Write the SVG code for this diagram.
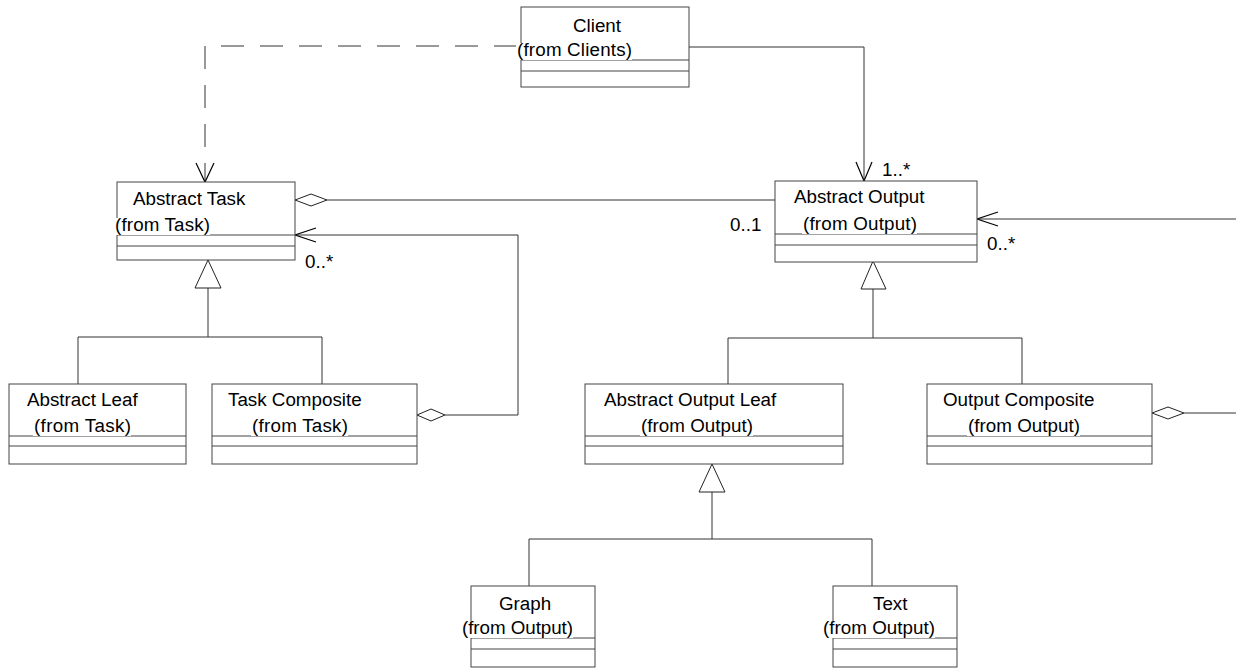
<svg xmlns="http://www.w3.org/2000/svg" width="1236" height="668" viewBox="0 0 1236 668">
<style>
  .box { fill: #fff; stroke: #444; stroke-width: 1; }
  .ln { fill: none; stroke: #444; stroke-width: 1; }
  .bg { fill: #fff; stroke: none; }
  .t { font-family: "Liberation Sans", Arial, sans-serif; font-size: 18.8px; fill: #000; }
  .con { fill: none; stroke: #333; stroke-width: 1; }
  .dash { stroke-dasharray: 23 16; }
  .head { fill: none; stroke: #000; stroke-width: 1.2; }
  .tri { fill: #fff; stroke: #222; stroke-width: 1; }
  .dia { fill: #fff; stroke: #222; stroke-width: 1; }
</style>
<rect width="1236" height="668" fill="#fff"/>

<g id="connectors">
  <!-- dependency Client -> Abstract Task -->
  <path class="con dash" d="M517,46 H205 V181"/>
  <path class="head" d="M196,163 L205,182 L214,163"/>
  <!-- Client -> Abstract Output -->
  <path class="con" d="M689,47 H864 V181"/>
  <path class="head" d="M856,162 L864,181 L872,162"/>
  <!-- aggregation Abstract Task <> Abstract Output -->
  <path class="con" d="M327,200 H775"/>
  <polygon class="dia" points="295,200 311,194 327,200 311,206"/>
  <!-- Task Composite aggregation to Abstract Task -->
  <path class="con" d="M445,415 H518 V235 H296"/>
  <polygon class="dia" points="417,415 431,409 445,415 431,421"/>
  <path class="head" d="M316,228 L295,235 L316,242"/>
  <!-- Output Composite aggregation to Abstract Output -->
  <path class="con" d="M1184,413 H1240 V219 H978"/>
  <polygon class="dia" points="1152,413 1168,407 1184,413 1168,419"/>
  <path class="head" d="M998,212 L977,219 L998,226"/>
  <!-- generalization Abstract Task -->
  <path class="con" d="M208,288 V337 M78,384 V337 H322 V384"/>
  <polygon class="tri" points="208,260 195,288 221,288"/>
  <!-- generalization Abstract Output -->
  <path class="con" d="M873,289 V338 M728,384 V338 H1022 V384"/>
  <polygon class="tri" points="873,261 861,289 886,289"/>
  <!-- generalization Abstract Output Leaf -->
  <path class="con" d="M712,492 V539 M529,586 V539 H872 V586"/>
  <polygon class="tri" points="712,464 699,492 725,492"/>
  <!-- multiplicities -->
  <text class="t" x="882" y="176">1..*</text>
  <text class="t" x="730" y="231">0..1</text>
  <text class="t" x="305" y="268">0..*</text>
  <text class="t" x="987" y="250">0..*</text>
</g>

<g id="client">
  <rect class="box" x="521" y="7" width="168" height="80"/>
  <line class="ln" x1="521" y1="60" x2="689" y2="60"/>
  <line class="ln" x1="521" y1="71" x2="689" y2="71"/>
  <text class="t" x="573" y="32">Client</text>
  <rect class="bg" x="516" y="43" width="116" height="17"/>
  <text class="t" x="517" y="56" textLength="115">(from Clients)</text>
</g>

<g id="abstract-task">
  <rect class="box" x="117" y="182" width="178" height="78"/>
  <line class="ln" x1="117" y1="235" x2="295" y2="235"/>
  <line class="ln" x1="117" y1="246" x2="295" y2="246"/>
  <text class="t" x="133" y="205">Abstract Task</text>
  <rect class="bg" x="114" y="218" width="96" height="17"/>
  <text class="t" x="115" y="231" textLength="95">(from Task)</text>
</g>

<g id="abstract-output">
  <rect class="box" x="775" y="181" width="202" height="81"/>
  <line class="ln" x1="775" y1="234" x2="977" y2="234"/>
  <line class="ln" x1="775" y1="245" x2="977" y2="245"/>
  <text class="t" x="794" y="203">Abstract Output</text>
  <rect class="bg" x="802" y="217" width="115" height="17"/>
  <text class="t" x="803" y="230" textLength="114">(from Output)</text>
</g>

<g id="abstract-leaf">
  <rect class="box" x="9" y="384" width="177" height="80"/>
  <line class="ln" x1="9" y1="436" x2="186" y2="436"/>
  <line class="ln" x1="9" y1="446" x2="186" y2="446"/>
  <text class="t" x="27" y="406">Abstract Leaf</text>
  <rect class="bg" x="33" y="419" width="98" height="17"/>
  <text class="t" x="34" y="432" textLength="97">(from Task)</text>
</g>

<g id="task-composite">
  <rect class="box" x="212" y="384" width="205" height="80"/>
  <line class="ln" x1="212" y1="436" x2="417" y2="436"/>
  <line class="ln" x1="212" y1="446" x2="417" y2="446"/>
  <text class="t" x="228" y="406">Task Composite</text>
  <rect class="bg" x="251" y="419" width="97" height="17"/>
  <text class="t" x="252" y="432" textLength="96">(from Task)</text>
</g>

<g id="abstract-output-leaf">
  <rect class="box" x="585" y="384" width="258" height="80"/>
  <line class="ln" x1="585" y1="436" x2="843" y2="436"/>
  <line class="ln" x1="585" y1="446" x2="843" y2="446"/>
  <text class="t" x="604" y="406">Abstract Output Leaf</text>
  <rect class="bg" x="640" y="419" width="113" height="17"/>
  <text class="t" x="641" y="432" textLength="112">(from Output)</text>
</g>

<g id="output-composite">
  <rect class="box" x="927" y="384" width="225" height="80"/>
  <line class="ln" x1="927" y1="436" x2="1152" y2="436"/>
  <line class="ln" x1="927" y1="446" x2="1152" y2="446"/>
  <text class="t" x="943" y="406">Output Composite</text>
  <rect class="bg" x="967" y="419" width="113" height="17"/>
  <text class="t" x="968" y="432" textLength="112">(from Output)</text>
</g>

<g id="graph">
  <rect class="box" x="471" y="586" width="124" height="81"/>
  <line class="ln" x1="471" y1="638" x2="595" y2="638"/>
  <line class="ln" x1="471" y1="649" x2="595" y2="649"/>
  <text class="t" x="499" y="610">Graph</text>
  <rect class="bg" x="461" y="621" width="112" height="17"/>
  <text class="t" x="462" y="634" textLength="111">(from Output)</text>
</g>

<g id="text">
  <rect class="box" x="833" y="586" width="124" height="81"/>
  <line class="ln" x1="833" y1="638" x2="957" y2="638"/>
  <line class="ln" x1="833" y1="649" x2="957" y2="649"/>
  <text class="t" x="873" y="610">Text</text>
  <rect class="bg" x="822" y="621" width="113" height="17"/>
  <text class="t" x="823" y="634" textLength="112">(from Output)</text>
</g>
</svg>
